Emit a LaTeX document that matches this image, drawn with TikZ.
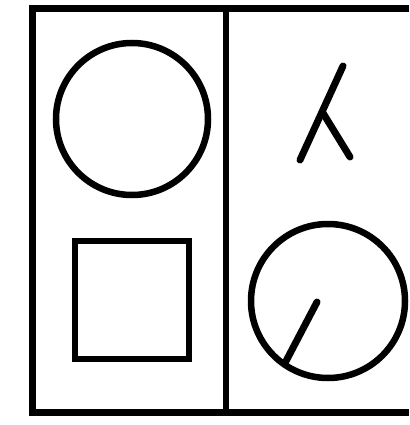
\documentclass[tikz,border=0pt]{standalone}
\begin{document}
\begin{tikzpicture}[x=1pt, y=-1pt,
  frame/.style={line width=7pt},
  figline/.style={line width=6.5pt},
  pen/.style={line width=7pt, line cap=round}
]
\useasboundingbox (0,0) rectangle (409,425);
% outer frame, open on the right
\draw[frame] (409,9) -- (32,9) -- (32,412) -- (409,412);
\draw[frame, line width=6pt] (226,9) -- (226,412);
% left panel
\draw[figline] (132,119) circle[radius=76];
\draw[figline] (75,241) rectangle (189,359);
% right panel
\draw[pen] (343,66) -- (300,160);
\draw[pen] (323,113) -- (350,157);
\draw[figline] (328,301) circle[radius=77];
\draw[pen] (317,302) -- (285,363);
\end{tikzpicture}
\end{document}
